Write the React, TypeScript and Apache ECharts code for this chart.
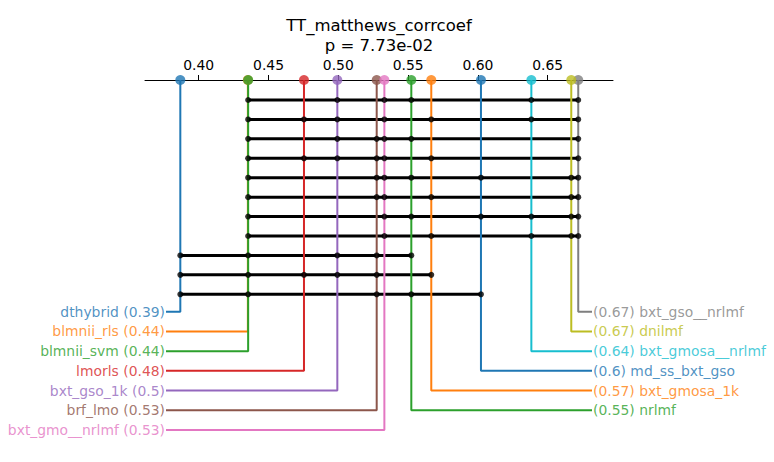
import React, { useEffect, useRef } from "react";
import * as echarts from "echarts";

const models = [
  "dthybrid",
  "blmnii_rls",
  "blmnii_svm",
  "lmorls",
  "bxt_gso_1k",
  "brf_lmo",
  "bxt_gmo__nrlmf",
  "nrlmf",
  "bxt_gmosa_1k",
  "md_ss_bxt_gso",
  "bxt_gmosa__nrlmf",
  "dnilmf",
  "bxt_gso__nrlmf",
];
const scores = [
  0.3868, 0.4352, 0.4354, 0.4754, 0.4993, 0.5275, 0.533, 0.5523, 0.5666,
  0.6022, 0.6383, 0.6669, 0.6719,
];
const colors = [
  "#1f77b4",
  "#ff7f0e",
  "#2ca02c",
  "#d62728",
  "#9467bd",
  "#8c564b",
  "#e377c2",
  "#2ca02c",
  "#ff7f0e",
  "#1f77b4",
  "#17becf",
  "#bcbd22",
  "#7f7f7f",
];
const leftModels = [
  "dthybrid",
  "blmnii_rls",
  "blmnii_svm",
  "lmorls",
  "bxt_gso_1k",
  "brf_lmo",
  "bxt_gmo__nrlmf",
];
const rightModels = [
  "bxt_gso__nrlmf",
  "dnilmf",
  "bxt_gmosa__nrlmf",
  "md_ss_bxt_gso",
  "bxt_gmosa_1k",
  "nrlmf",
];
const cliques = [
  ["blmnii_svm", "bxt_gso_1k", "bxt_gmo__nrlmf", "nrlmf", "bxt_gmosa__nrlmf", "bxt_gso__nrlmf"],
  ["blmnii_svm", "lmorls", "bxt_gso_1k", "bxt_gmo__nrlmf", "bxt_gmosa_1k", "bxt_gmosa__nrlmf", "bxt_gso__nrlmf"],
  ["blmnii_svm", "bxt_gso_1k", "brf_lmo", "bxt_gmo__nrlmf", "nrlmf", "bxt_gso__nrlmf"],
  ["blmnii_svm", "lmorls", "bxt_gso_1k", "brf_lmo", "bxt_gmo__nrlmf", "bxt_gmosa_1k", "bxt_gso__nrlmf"],
  ["blmnii_svm", "brf_lmo", "bxt_gmo__nrlmf", "nrlmf", "md_ss_bxt_gso", "dnilmf", "bxt_gso__nrlmf"],
  ["blmnii_svm", "brf_lmo", "bxt_gmo__nrlmf", "bxt_gmosa_1k", "dnilmf", "bxt_gso__nrlmf"],
  ["blmnii_svm", "bxt_gmo__nrlmf", "nrlmf", "md_ss_bxt_gso", "bxt_gmosa__nrlmf", "dnilmf", "bxt_gso__nrlmf"],
  ["blmnii_svm", "bxt_gmo__nrlmf", "bxt_gmosa_1k", "bxt_gmosa__nrlmf", "dnilmf", "bxt_gso__nrlmf"],
  ["dthybrid", "blmnii_svm", "bxt_gso_1k", "brf_lmo", "nrlmf"],
  ["dthybrid", "blmnii_svm", "lmorls", "bxt_gso_1k", "brf_lmo", "bxt_gmosa_1k"],
  ["dthybrid", "blmnii_svm", "brf_lmo", "nrlmf", "md_ss_bxt_gso"],
];
const tickValues = [0.4, 0.45, 0.5, 0.55, 0.6, 0.65];
const titleText = "TT_matthews_corrcoef";
const subtitleText = "p = 7.73e-02";

const FONT = "DejaVu Sans";

export default function App() {
  const ref = useRef<HTMLDivElement>(null);
  useEffect(() => {
    if (!ref.current) return;
    const chart = echarts.init(ref.current, null, { renderer: "svg" });

    const xMin = 0.3615;
    const xMax = 0.6968;
    const gridLeft = 145;
    const gridWidth = 468;
    const perPx = (xMax - xMin) / gridWidth;
    const leftEdge = xMin + 21 * perPx;
    const rightEdge = xMin + 447 * perPx;

    const rowY = (i: number) => 20 + 19.43 * i;
    const labelY = (j: number) => 231.7 + 19.72 * j;
    const fmt = (v: number) => String(Number(v.toFixed(2)));
    const scoreOf = (m: string) => scores[models.indexOf(m)];
    const colorOf = (m: string) => colors[models.indexOf(m)];

    const series: any[] = [];

    cliques.forEach((cl, i) => {
      const xs = cl.map(scoreOf);
      const lo = Math.min(...xs);
      const hi = Math.max(...xs);
      series.push({
        type: "line",
        data: [
          [lo, rowY(i)],
          [hi, rowY(i)],
        ],
        showSymbol: false,
        symbol: "none",
        lineStyle: { color: "#000", width: 3 },
        z: 2,
        silent: true,
      });
      series.push({
        type: "scatter",
        data: xs.map((x) => [x, rowY(i)]),
        symbol: "circle",
        symbolSize: 6,
        itemStyle: { color: "#000" },
        z: 4,
        silent: true,
      });
    });

    const stem = (m: string, j: number, side: "left" | "right") => {
      const v = scoreOf(m);
      const c = colorOf(m);
      const ly = labelY(j);
      const ex = side === "left" ? leftEdge : rightEdge;
      series.push({
        type: "line",
        data: [
          [v, 0],
          [v, ly],
          [ex, ly],
        ],
        showSymbol: false,
        symbol: "none",
        lineStyle: { color: c, width: 2 },
        z: 3,
        silent: true,
      });
      series.push({
        type: "scatter",
        data: [[ex, ly]],
        symbolSize: 0,
        z: 3,
        silent: true,
        label: {
          show: true,
          position: side,
          distance: 1,
          color: c,
          fontSize: 13.9,
          fontFamily: FONT,
          formatter:
            side === "left" ? `${m} (${fmt(v)})` : `(${fmt(v)}) ${m}`,
        },
      });
      series.push({
        type: "scatter",
        data: [[v, 0]],
        symbol: "circle",
        symbolSize: 10,
        itemStyle: { color: c },
        z: 5,
        silent: true,
      });
    };

    leftModels.forEach((m, j) => stem(m, j, "left"));
    rightModels.forEach((m, j) => stem(m, j, "right"));

    chart.setOption({
      animation: false,
      backgroundColor: "#fff",
      grid: { left: gridLeft, top: 80, width: gridWidth, height: 350 },
      xAxis: {
        type: "value",
        position: "top",
        min: xMin,
        max: xMax,
        splitLine: { show: false },
        axisLine: { show: true, onZero: false, lineStyle: { color: "#000", width: 1 } },
        axisTick: {
          show: true,
          length: 5,
          customValues: tickValues,
          lineStyle: { color: "#000", width: 1 },
        },
        axisLabel: {
          customValues: tickValues,
          color: "#000",
          fontSize: 13.9,
          fontFamily: FONT,
          margin: 8,
          formatter: (v: number) => v.toFixed(2),
        },
      },
      yAxis: {
        type: "value",
        inverse: true,
        min: 0,
        max: 350,
        show: false,
      },
      graphic: [
        {
          type: "text",
          x: 379,
          y: 25,
          style: {
            text: titleText,
            fontSize: 16.5,
            fontFamily: FONT,
            fill: "#000",
            align: "center",
            verticalAlign: "middle",
          },
        },
        {
          type: "text",
          x: 379,
          y: 45,
          style: {
            text: subtitleText,
            fontSize: 16.5,
            fontFamily: FONT,
            fill: "#000",
            align: "center",
            verticalAlign: "middle",
          },
        },
      ],
      series,
    });
    return () => chart.dispose();
  }, []);
  return (
    <div
      ref={ref}
      style={{ position: "fixed", left: 0, top: 0, width: 774, height: 462 }}
    />
  );
}
